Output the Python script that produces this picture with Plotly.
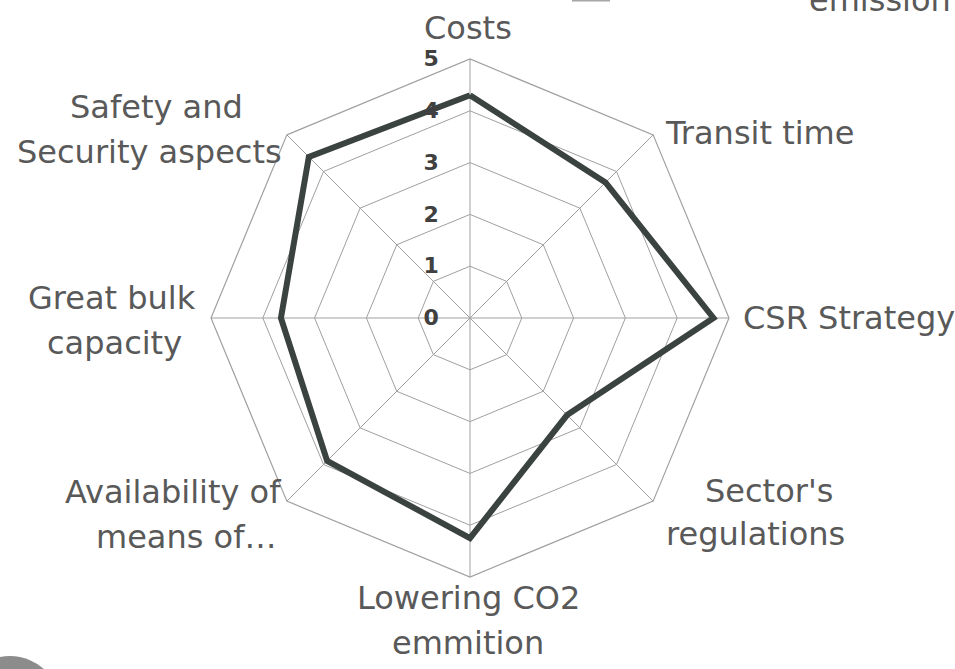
import plotly.graph_objects as go

categories = ["Costs", "Transit time", "CSR Strategy", "Sector's<br>regulations",
              "Lowering CO2<br>emmition", "Availability of<br>means of…",
              "Great bulk<br>capacity", "Safety and<br>Security aspects"]
values = [4.3, 3.7, 4.7, 2.65, 4.25, 3.9, 3.65, 4.4]
tick_vals = [0, 1, 2, 3, 4, 5]
tick_text = ["0", "1", "2", "3", "4", "5"]

W, H = 955, 669
cx, cy, R = 470, 318, 259

# label placement (pixels): per line (x, y, xanchor)
label_pos = [
    [(468, 28, "center")],
    [(663, 133, "left")],
    [(741, 318, "left")],
    [(769, 491, "center"), (755, 534, "center")],
    [(468, 598, "center"), (468, 643, "center")],
    [(283, 492, "right"), (278, 537, "right")],
    [(112, 298, "center"), (114, 343, "center")],
    [(156, 107, "center"), (149, 152, "center")],
]

fig = go.Figure()
fig.add_trace(go.Scatterpolar(
    r=values + values[:1],
    theta=categories + categories[:1],
    mode="lines",
    line=dict(color="#3b4341", width=6),
    showlegend=False,
    hoverinfo="skip",
))

grid = "#a0a0a0"
fig.update_layout(
    width=W, height=H,
    margin=dict(l=0, r=0, t=0, b=0),
    paper_bgcolor="white",
    plot_bgcolor="white",
    showlegend=False,
    polar=dict(
        domain=dict(x=[(cx - R) / W, (cx + R) / W],
                    y=[1 - (cy + R) / H, 1 - (cy - R) / H]),
        bgcolor="white",
        gridshape="linear",
        radialaxis=dict(
            range=[0, 5],
            tickvals=tick_vals,
            ticktext=tick_text,
            angle=90,
            tickangle=90,
            side="counterclockwise",
            showline=False,
            gridcolor=grid,
            gridwidth=1.2,
            ticks="outside",
            ticklen=23,
            tickcolor="rgba(0,0,0,0)",
            tickfont=dict(family="DejaVu Sans", size=22, color="#404040", weight="bold"),
        ),
        angularaxis=dict(
            rotation=90,
            direction="clockwise",
            linecolor=grid,
            linewidth=1.2,
            gridcolor=grid,
            gridwidth=1.2,
            ticks="",
            showticklabels=False,
        ),
    ),
)

for cat, lines in zip(categories, label_pos):
    for txt, (x, y, anc) in zip(cat.split("<br>"), lines):
        fig.add_annotation(text=txt, xref="paper", yref="paper",
                           x=x / W, y=1 - y / H, xanchor=anc, yanchor="middle",
                           showarrow=False,
                           font=dict(family="DejaVu Sans", size=32, color="#595959"))

# partial legend remnants at the top edge
fig.add_shape(type="line", xref="paper", yref="paper",
              x0=572 / W, x1=610 / W, y0=1 - 0.5 / H, y1=1 - 0.5 / H,
              line=dict(color="#a6a6a6", width=2))
fig.add_annotation(text="emission", xref="paper", yref="paper",
                   x=807 / W, y=1 - 21 / H, xanchor="left", yanchor="bottom",
                   showarrow=False,
                   font=dict(family="DejaVu Sans", size=32, color="#595959"))
# partial circle at bottom-left corner
fig.add_shape(type="circle", xref="paper", yref="paper",
              x0=(10 - 51) / W, x1=(10 + 51) / W,
              y0=1 - (707 + 51) / H, y1=1 - (707 - 51) / H,
              fillcolor="#8c8c8c", line=dict(width=0))

fig.write_html("out.html", config={"displayModeBar": False},
               post_script="document.body.style.margin='0';")
